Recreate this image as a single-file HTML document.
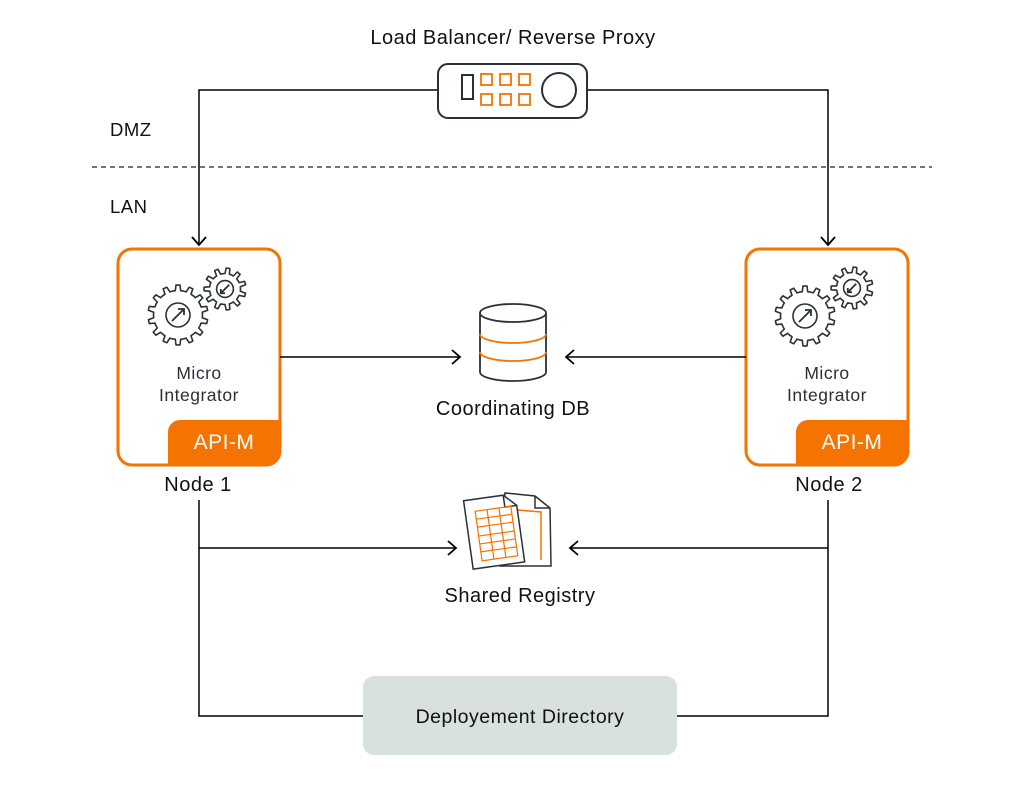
<!DOCTYPE html>
<html><head><meta charset="utf-8"><style>
html,body{margin:0;padding:0;background:#fff;}
svg{display:block;}
text{font-family:"Liberation Sans",sans-serif;letter-spacing:0.5px;}
</style></head><body>
<svg id="s" width="1025" height="790" viewBox="0 0 1025 790" xmlns="http://www.w3.org/2000/svg">
<defs>
<marker id="a" markerWidth="16" markerHeight="16" refX="12" refY="8" orient="auto" markerUnits="userSpaceOnUse">
<path d="M4,1 L12,8 L4,15" fill="none" stroke="#000" stroke-width="1.8"/>
</marker>
</defs>
<rect width="1025" height="790" fill="#fff"/>
<text x="513" y="44" font-size="20" text-anchor="middle" fill="#111">Load Balancer/ Reverse Proxy</text>
<text x="110" y="136" font-size="18.5" fill="#111">DMZ</text>
<text x="110" y="213" font-size="18.5" fill="#111">LAN</text>
<line x1="92" y1="167" x2="932" y2="167" stroke="#222" stroke-width="1.3" stroke-dasharray="5,4"/>
<g fill="none" stroke-width="2">
<path d="M437,90 H199 V245" stroke="#000" stroke-width="1.5" marker-end="url(#a)"/>
<path d="M587,90 H828 V245" stroke="#000" stroke-width="1.5" marker-end="url(#a)"/>
<rect x="438" y="64" width="149" height="54" rx="10" fill="#fff" stroke="#2a3038"/>
<rect x="462" y="75" width="11" height="24" stroke="#2a3038"/>
<g stroke="#f57300" stroke-width="1.8">
<rect x="481" y="74" width="11" height="11"/><rect x="500" y="74" width="11" height="11"/><rect x="519" y="74" width="11" height="11"/>
<rect x="481" y="94" width="11" height="11"/><rect x="500" y="94" width="11" height="11"/><rect x="519" y="94" width="11" height="11"/>
</g>
<circle cx="559" cy="90" r="17" stroke="#2a3038"/>
</g>
<g id="n1">
<rect x="118" y="249" width="162" height="216" rx="14" fill="#fff" stroke="#f57300" stroke-width="3"/>
<path d="M168,432 a12,12 0 0 1 12,-12 H280 V451 a14,14 0 0 1 -14,14 H168 Z" fill="#f57300"/>
<text x="224" y="449" font-size="21" fill="#fff" text-anchor="middle">API-M</text>
<text x="199" y="379" font-size="17.5" fill="#2a3038" text-anchor="middle">Micro</text>
<text x="199" y="401" font-size="17.5" fill="#2a3038" text-anchor="middle">Integrator</text>
<g class="g1" data-cx="178" data-cy="315" data-r="30" data-n="14" data-arrow="out"></g>
<g class="g1" data-cx="225" data-cy="289" data-r="21" data-n="11" data-arrow="in"></g>
</g>
<g id="n2">
<rect x="746" y="249" width="162" height="216" rx="14" fill="#fff" stroke="#f57300" stroke-width="3"/>
<path d="M796,432 a12,12 0 0 1 12,-12 H908 V451 a14,14 0 0 1 -14,14 H796 Z" fill="#f57300"/>
<text x="852" y="449" font-size="21" fill="#fff" text-anchor="middle">API-M</text>
<text x="827" y="379" font-size="17.5" fill="#2a3038" text-anchor="middle">Micro</text>
<text x="827" y="401" font-size="17.5" fill="#2a3038" text-anchor="middle">Integrator</text>
<g class="g1" data-cx="805" data-cy="316" data-r="30" data-n="14" data-arrow="out"></g>
<g class="g1" data-cx="852" data-cy="288" data-r="21" data-n="11" data-arrow="in"></g>
</g>
<text x="198" y="491" font-size="20" fill="#111" text-anchor="middle">Node 1</text>
<text x="829" y="491" font-size="20" fill="#111" text-anchor="middle">Node 2</text>
<g fill="none" stroke-width="1.8">
<path d="M280,357 H460" stroke="#000" stroke-width="1.5" marker-end="url(#a)"/>
<path d="M746,357 H566" stroke="#000" stroke-width="1.5" marker-end="url(#a)"/>
<path d="M480,313 V372 A33,9 0 0 0 546,372 V313" fill="#fff" stroke="#2a3038"/>
<ellipse cx="513" cy="313" rx="33" ry="9" fill="#fff" stroke="#2a3038"/>
<path d="M480,334 A33,9 0 0 0 546,334" stroke="#f57300"/>
<path d="M480,352 A33,9 0 0 0 546,352" stroke="#f57300"/>
</g>
<text x="513" y="415" font-size="20" fill="#111" text-anchor="middle">Coordinating DB</text>
<g fill="none" stroke-width="1.5">
<path d="M199,500 V716 H363" stroke="#000"/>
<path d="M828,500 V716 H677" stroke="#000"/>
<path d="M199,548 H456" stroke="#000" marker-end="url(#a)"/>
<path d="M828,548 H570" stroke="#000" marker-end="url(#a)"/>
<path d="M505,493 L535,496 L550,508 L551,566 L500,566 Z" fill="#fff" stroke="#2a3038"/>
<path d="M535,496 L535,508 L550,508" stroke="#2a3038"/>
<path d="M518,510 L541,512 L541,560" stroke="#f57300"/>
<g transform="rotate(-8 500 530)">
<path d="M468,496 L508,496 L520,508 L520,565 L468,565 Z" fill="#fff" stroke="#2a3038"/>
<path d="M508,496 L508,508 L520,508" stroke="#2a3038"/>
<g stroke="#f57300" stroke-width="1.2">
<rect x="478" y="508" width="36" height="50"/>
<line x1="490" y1="508" x2="490" y2="558"/><line x1="502" y1="508" x2="502" y2="558"/>
<line x1="478" y1="516" x2="514" y2="516"/><line x1="478" y1="524" x2="514" y2="524"/>
<line x1="478" y1="533" x2="514" y2="533"/><line x1="478" y1="541" x2="514" y2="541"/><line x1="478" y1="549" x2="514" y2="549"/>
</g></g>
</g>
<text x="520" y="602" font-size="20" fill="#111" text-anchor="middle">Shared Registry</text>
<rect x="363" y="676" width="314" height="79" rx="11" fill="#d8e1dd"/>
<text x="520" y="723" font-size="19.5" fill="#111" text-anchor="middle">Deployement Directory</text>
</svg>
<script>
document.querySelectorAll('.g1').forEach(function(g){
  var cx=+g.dataset.cx, cy=+g.dataset.cy, r=+g.dataset.r, n=+g.dataset.n;
  var ro=r, ri=r-5.5, d='';
  for(var i=0;i<n;i++){
    var a0=i*2*Math.PI/n, s=2*Math.PI/n;
    var pts=[[ri,a0],[ri,a0+s*0.25],[ro,a0+s*0.35],[ro,a0+s*0.65],[ri,a0+s*0.75]];
    pts.forEach(function(p,j){var x=cx+p[0]*Math.cos(p[1]),y=cy+p[0]*Math.sin(p[1]);d+=(i==0&&j==0?'M':'L')+x.toFixed(1)+','+y.toFixed(1);});
  }
  d+='Z';
  var ns='http://www.w3.org/2000/svg';
  var p=document.createElementNS(ns,'path');p.setAttribute('d',d);p.setAttribute('fill','#fff');p.setAttribute('stroke','#2a3038');p.setAttribute('stroke-width','1.6');p.setAttribute('stroke-linejoin','round');g.appendChild(p);
  var c=document.createElementNS(ns,'circle');c.setAttribute('cx',cx);c.setAttribute('cy',cy);c.setAttribute('r',r*0.4);c.setAttribute('fill','none');c.setAttribute('stroke','#2a3038');c.setAttribute('stroke-width','1.6');g.appendChild(c);
  var k=r*0.2, a=document.createElementNS(ns,'path');
  if(g.dataset.arrow=='out') a.setAttribute('d','M'+(cx-k)+','+(cy+k)+'L'+(cx+k)+','+(cy-k)+'M'+(cx)+','+(cy-k)+'L'+(cx+k)+','+(cy-k)+'L'+(cx+k)+','+cy);
  else a.setAttribute('d','M'+(cx+k)+','+(cy-k)+'L'+(cx-k)+','+(cy+k)+'M'+(cx)+','+(cy+k)+'L'+(cx-k)+','+(cy+k)+'L'+(cx-k)+','+cy);
  a.setAttribute('fill','none');a.setAttribute('stroke','#2a3038');a.setAttribute('stroke-width','1.8');g.appendChild(a);
});
</script>
</body></html>
